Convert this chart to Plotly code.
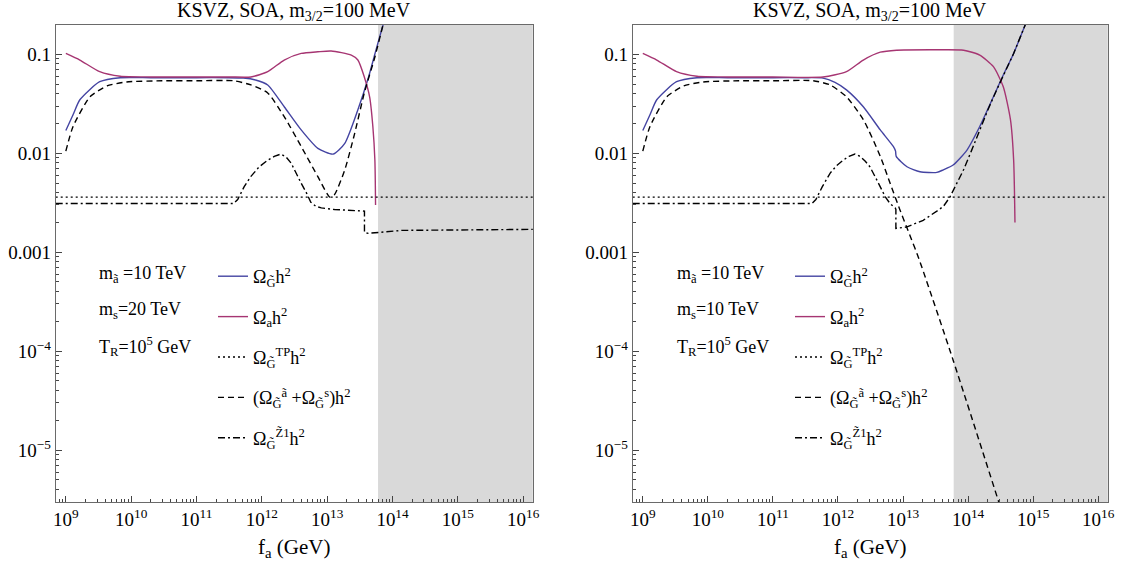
import plotly.graph_objects as go

# ---------------- data ----------------
# Left panel: m_s = 20 TeV
fa_L_grav = [1.0e9, 1.29e9, 1.64e9, 3.3e9, 6.8e9, 2.0e10, 1.0e11, 3.0e11, 5.2e11, 8.0e11, 1.23e12,
             2.2e12, 4.0e12, 7.2e12, 1.23e13, 1.86e13, 2.95e13, 4.3e13, 5.4e13, 7.2e13, 7.9e13]
om_L_grav = [0.017, 0.0245, 0.0347, 0.0528, 0.058, 0.058, 0.058, 0.058, 0.0575, 0.055, 0.049,
             0.0295, 0.0172, 0.0112, 0.0098, 0.0126, 0.0275, 0.059, 0.102, 0.2, 0.24]

fa_L_axion = [1.0e9, 1.64e9, 3.3e9, 6.8e9, 2.0e10, 1.0e11, 3.2e11, 6.8e11, 1.23e12, 2.2e12,
              4.0e12, 7.2e12, 1.15e13, 2.34e13, 2.95e13, 3.7e13, 4.47e13, 5.0e13, 5.37e13, 5.5e13]
om_L_axion = [0.102, 0.0875, 0.0667, 0.060, 0.059, 0.059, 0.059, 0.059, 0.0667, 0.0875,
              0.102, 0.106, 0.108, 0.098, 0.0875, 0.059, 0.037, 0.0186, 0.0085, 0.003]

fa_L_as = [1.0e9, 1.29e9, 2.34e9, 4.27e9, 8.5e9, 3.0e10, 1.0e11, 3.7e11, 6.8e11, 1.23e12, 2.2e12,
           4.0e12, 7.2e12, 1.1e13, 1.29e13, 1.86e13, 2.63e13, 3.7e13, 5.4e13, 7.2e13, 7.9e13]
om_L_as = [0.0105, 0.0186, 0.0372, 0.0479, 0.0525, 0.054, 0.054, 0.054, 0.049, 0.0407, 0.0234,
           0.0117, 0.0058, 0.0036, 0.0038, 0.0068, 0.0158, 0.0407, 0.095, 0.2, 0.24]

fa_L_z1 = [7e8, 3.7e11, 4.27e11, 5.37e11, 6.76e11, 9.12e11, 1.23e12, 1.55e12, 1.95e12, 2.34e12,
           2.82e12, 3.31e12, 3.98e12, 4.79e12, 5.62e12, 6.76e12, 8.13e12, 1.29e13, 3.72e13,
           3.72e13, 4.27e13, 1.38e14, 1.4e16]
om_L_z1 = [0.0031, 0.0031, 0.0034, 0.0046, 0.0058, 0.0073, 0.0085, 0.0093, 0.0098, 0.0092,
           0.0079, 0.0063, 0.005, 0.0040, 0.0032, 0.0029, 0.0028, 0.0027, 0.0026,
           0.00158, 0.00155, 0.00166, 0.0017]

# Right panel: m_s = 10 TeV
fa_R_grav = [1.0e9, 1.29e9, 1.64e9, 3.3e9, 6.8e9, 2.0e10, 1.0e11, 3.0e11, 5.9e11, 9.0e11,
             1.35e12, 2.45e12, 4.47e12, 7.08e12, 7.67e12, 7.85e12, 1.15e13, 1.82e13, 3.31e13,
             4.17e13, 5.89e13, 9.55e13, 1.51e14, 2.45e14, 3.47e14, 5.01e14, 7.59e14, 8.5e14]
om_R_grav = [0.017, 0.0245, 0.0347, 0.0528, 0.058, 0.058, 0.058, 0.058, 0.0575, 0.052,
             0.0437, 0.0295, 0.0172, 0.0117, 0.0105, 0.0093, 0.0073, 0.0065, 0.0064,
             0.0068, 0.0076, 0.0107, 0.0186, 0.0372, 0.0617, 0.102, 0.2, 0.24]

fa_R_axion = [1.0e9, 1.64e9, 3.3e9, 6.8e9, 2.0e10, 1.0e11, 5.9e11, 1.35e12, 2.45e12, 4.47e12,
              7.94e12, 3.16e13, 8.51e13, 1.51e14, 2.45e14, 3.47e14, 4.47e14, 5.01e14, 5.25e14]
om_R_axion = [0.102, 0.0875, 0.0667, 0.060, 0.059, 0.059, 0.059, 0.0667, 0.0875, 0.105,
              0.110, 0.111, 0.110, 0.098, 0.075, 0.047, 0.022, 0.0085, 0.002]

fa_R_as = [1.0e9, 1.29e9, 2.34e9, 4.27e9, 8.5e9, 3.0e10, 1.0e11, 4.17e11, 7.59e11, 1.35e12,
           2.45e12, 4.47e12, 6.31e12, 8.91e12, 1.29e13, 1.74e13, 5.89e13, 2.95e14, 3.98e14]
om_R_as = [0.0105, 0.0186, 0.0372, 0.0479, 0.0525, 0.054, 0.054, 0.054, 0.049, 0.0372,
           0.0219, 0.0093, 0.005, 0.0027, 0.00145, 0.00087, 8.1e-5, 3.0e-6, 1.6e-6]

fa_R_z1 = [7e8, 3.98e11, 4.57e11, 5.75e11, 7.59e11, 9.55e11, 1.20e12, 1.48e12, 1.82e12, 2.19e12,
           2.63e12, 3.09e12, 3.72e12, 4.47e12, 5.37e12, 6.31e12, 7.59e12, 7.76e12, 7.76e12,
           1.15e13, 2.04e13, 3.31e13, 4.17e13, 5.25e13, 6.76e13, 8.51e13, 1.12e14, 1.51e14,
           2.04e14, 2.75e14, 3.72e14, 5.01e14, 7.59e14, 8.51e14]
om_R_z1 = [0.0031, 0.0031, 0.0034, 0.0046, 0.0063, 0.0075, 0.0085, 0.0093, 0.0098, 0.0093,
           0.0083, 0.0073, 0.0058, 0.0046, 0.0036, 0.0031, 0.0028, 0.0027, 0.00174,
           0.0018, 0.0021, 0.0026, 0.0029, 0.0036, 0.0050, 0.0068, 0.0105, 0.0172,
           0.028, 0.0437, 0.068, 0.102, 0.2, 0.24]

# thermal production (flat)
fa_tp = [7e8, 1.4e16]
om_tp = [0.0036, 0.0036]

# excluded region (gray band)
excluded_fa_min = 6.0e13
excluded_fa_max = 1.4e16

x_tick_vals = [1e9, 1e10, 1e11, 1e12, 1e13, 1e14, 1e15, 1e16]
x_tick_text = ["10<sup>9</sup>", "10<sup>10</sup>", "10<sup>11</sup>", "10<sup>12</sup>",
               "10<sup>13</sup>", "10<sup>14</sup>", "10<sup>15</sup>", "10<sup>16</sup>"]
y_tick_vals = [1e-5, 1e-4, 1e-3, 1e-2, 1e-1]
y_tick_text = ["10<sup>\u22125</sup>", "10<sup>\u22124</sup>", "0.001", "0.01", "0.1"]

title_text = "KSVZ, SOA, m<sub>3/2</sub>=100 MeV"
params_L = ["m<sub>ã</sub> =10 TeV", "m<sub>s</sub>=20 TeV", "T<sub>R</sub>=10<sup>5</sup> GeV"]
params_R = ["m<sub>ã</sub> =10 TeV", "m<sub>s</sub>=10 TeV", "T<sub>R</sub>=10<sup>5</sup> GeV"]

names = ["Ω<sub>G̃</sub>h<sup>2</sup>",
         "Ω<sub>a</sub>h<sup>2</sup>",
         "Ω<sub>G̃</sub><sup>TP</sup>h<sup>2</sup>",
         "(Ω<sub>G̃</sub><sup>ã</sup> +Ω<sub>G̃</sub><sup>s</sup>)h<sup>2</sup>",
         "Ω<sub>G̃</sub><sup>Z̃1</sup>h<sup>2</sup>"]

# ---------------- styling ----------------
FONT = "Liberation Serif, Times New Roman, DejaVu Serif, serif"
BLUE = "#4444a2"
MAGENTA = "#a63572"
W = 1125
H = 571
minor_x = [m * 10.0 ** k for k in range(8, 17) for m in range(2, 10)]
minor_y = [m * 10.0 ** k for k in range(-7, 1) for m in range(2, 10)]

styles = [
    dict(color=BLUE, width=1.4, dash="solid", shape="spline"),
    dict(color=MAGENTA, width=1.4, dash="solid", shape="spline"),
    dict(color="black", width=1.4, dash="2px,3px", shape="linear"),
    dict(color="black", width=1.4, dash="6px,4px", shape="spline"),
    dict(color="black", width=1.4, dash="7px,3px,2px,3px", shape="linear"),
]

fig = go.Figure()

panels = [
    dict(xa="x", ya="y", legend="legend",
         data=[(fa_L_grav, om_L_grav), (fa_L_axion, om_L_axion), (fa_tp, om_tp),
               (fa_L_as, om_L_as), (fa_L_z1, om_L_z1)]),
    dict(xa="x2", ya="y2", legend="legend2",
         data=[(fa_R_grav, om_R_grav), (fa_R_axion, om_R_axion), (fa_tp, om_tp),
               (fa_R_as, om_R_as), (fa_R_z1, om_R_z1)]),
]

for p in panels:
    for i, ((xs, ys), st, nm) in enumerate(zip(p["data"], styles, names)):
        fig.add_trace(go.Scatter(
            x=xs, y=ys, mode="lines", name=nm,
            xaxis=p["xa"], yaxis=p["ya"], legend=p["legend"],
            legendgroup=p["legend"] + str(i),
            line=dict(color=st["color"], width=st["width"], dash=st["dash"],
                      shape=st["shape"], smoothing=0.6),
            hoverinfo="skip",
        ))

for xref, yref in [("x", "y"), ("x2", "y2")]:
    fig.add_shape(type="rect", xref=xref, yref=yref + " domain",
                  x0=excluded_fa_min, x1=excluded_fa_max, y0=0, y1=1,
                  fillcolor="#d9d9d9", line_width=0, layer="below")

x_dom_L = [55.7 / W, 533 / W]
x_dom_R = [632.7 / W, 1108 / W]
y_dom = [1 - 502 / H, 1 - 25 / H]

common = dict(type="log", showline=True, linecolor="#6a6a6a", linewidth=1, mirror=True,
              ticks="inside", ticklen=6, tickcolor="#444", tickwidth=1,
              showgrid=False, zeroline=False, automargin=False,
              tickfont=dict(family=FONT, size=19, color="black"))

xcommon = dict(common, range=[8.845, 16.15], tickmode="array", tickvals=x_tick_vals,
               ticktext=x_tick_text,
               minor=dict(tickmode="array", tickvals=minor_x, ticks="inside",
                          ticklen=3, tickcolor="#444"))
ycommon = dict(common, range=[-5.525, -0.704], tickmode="array", tickvals=y_tick_vals,
               ticktext=y_tick_text,
               minor=dict(tickmode="array", tickvals=minor_y, ticks="inside",
                          ticklen=3, tickcolor="#444"))

legend_common = dict(xanchor="left", yanchor="top", bgcolor="rgba(0,0,0,0)",
                     font=dict(family=FONT, size=18, color="black"),
                     tracegroupgap=14, itemwidth=30)

annotations = []
for cx, params, px in [((55.7 + 533) / 2, params_L, 96.7), ((632.7 + 1108) / 2, params_R, 675)]:
    annotations.append(dict(text=title_text, x=cx / W, y=1 - 12 / H, xref="paper", yref="paper",
                            xanchor="center", yanchor="middle", showarrow=False,
                            font=dict(family=FONT, size=20, color="black")))
    annotations.append(dict(text="f<sub>a</sub> (GeV)", x=cx / W, y=1 - 548 / H,
                            xref="paper", yref="paper", xanchor="center", yanchor="middle",
                            showarrow=False, font=dict(family=FONT, size=21, color="black")))
    for t, yy in zip(params, [275, 310, 346]):
        annotations.append(dict(text=t, x=px / W, y=1 - yy / H, xref="paper", yref="paper",
                                xanchor="left", yanchor="middle", showarrow=False,
                                font=dict(family=FONT, size=18, color="black")))

fig.update_layout(
    width=W, height=H,
    margin=dict(l=0, r=0, t=0, b=0, autoexpand=False),
    paper_bgcolor="white", plot_bgcolor="white",
    showlegend=True,
    xaxis=dict(xcommon, domain=x_dom_L, anchor="y"),
    yaxis=dict(ycommon, domain=y_dom, anchor="x"),
    xaxis2=dict(xcommon, domain=x_dom_R, anchor="y2"),
    yaxis2=dict(ycommon, domain=y_dom, anchor="x2"),
    legend=dict(legend_common, x=213 / W, y=1 - 258 / H),
    legend2=dict(legend_common, x=790 / W, y=1 - 258 / H),
    annotations=annotations,
)

fig.write_html("out.html", config={"displayModeBar": False},
               post_script="document.body.style.margin='0';document.body.style.padding='0';")
